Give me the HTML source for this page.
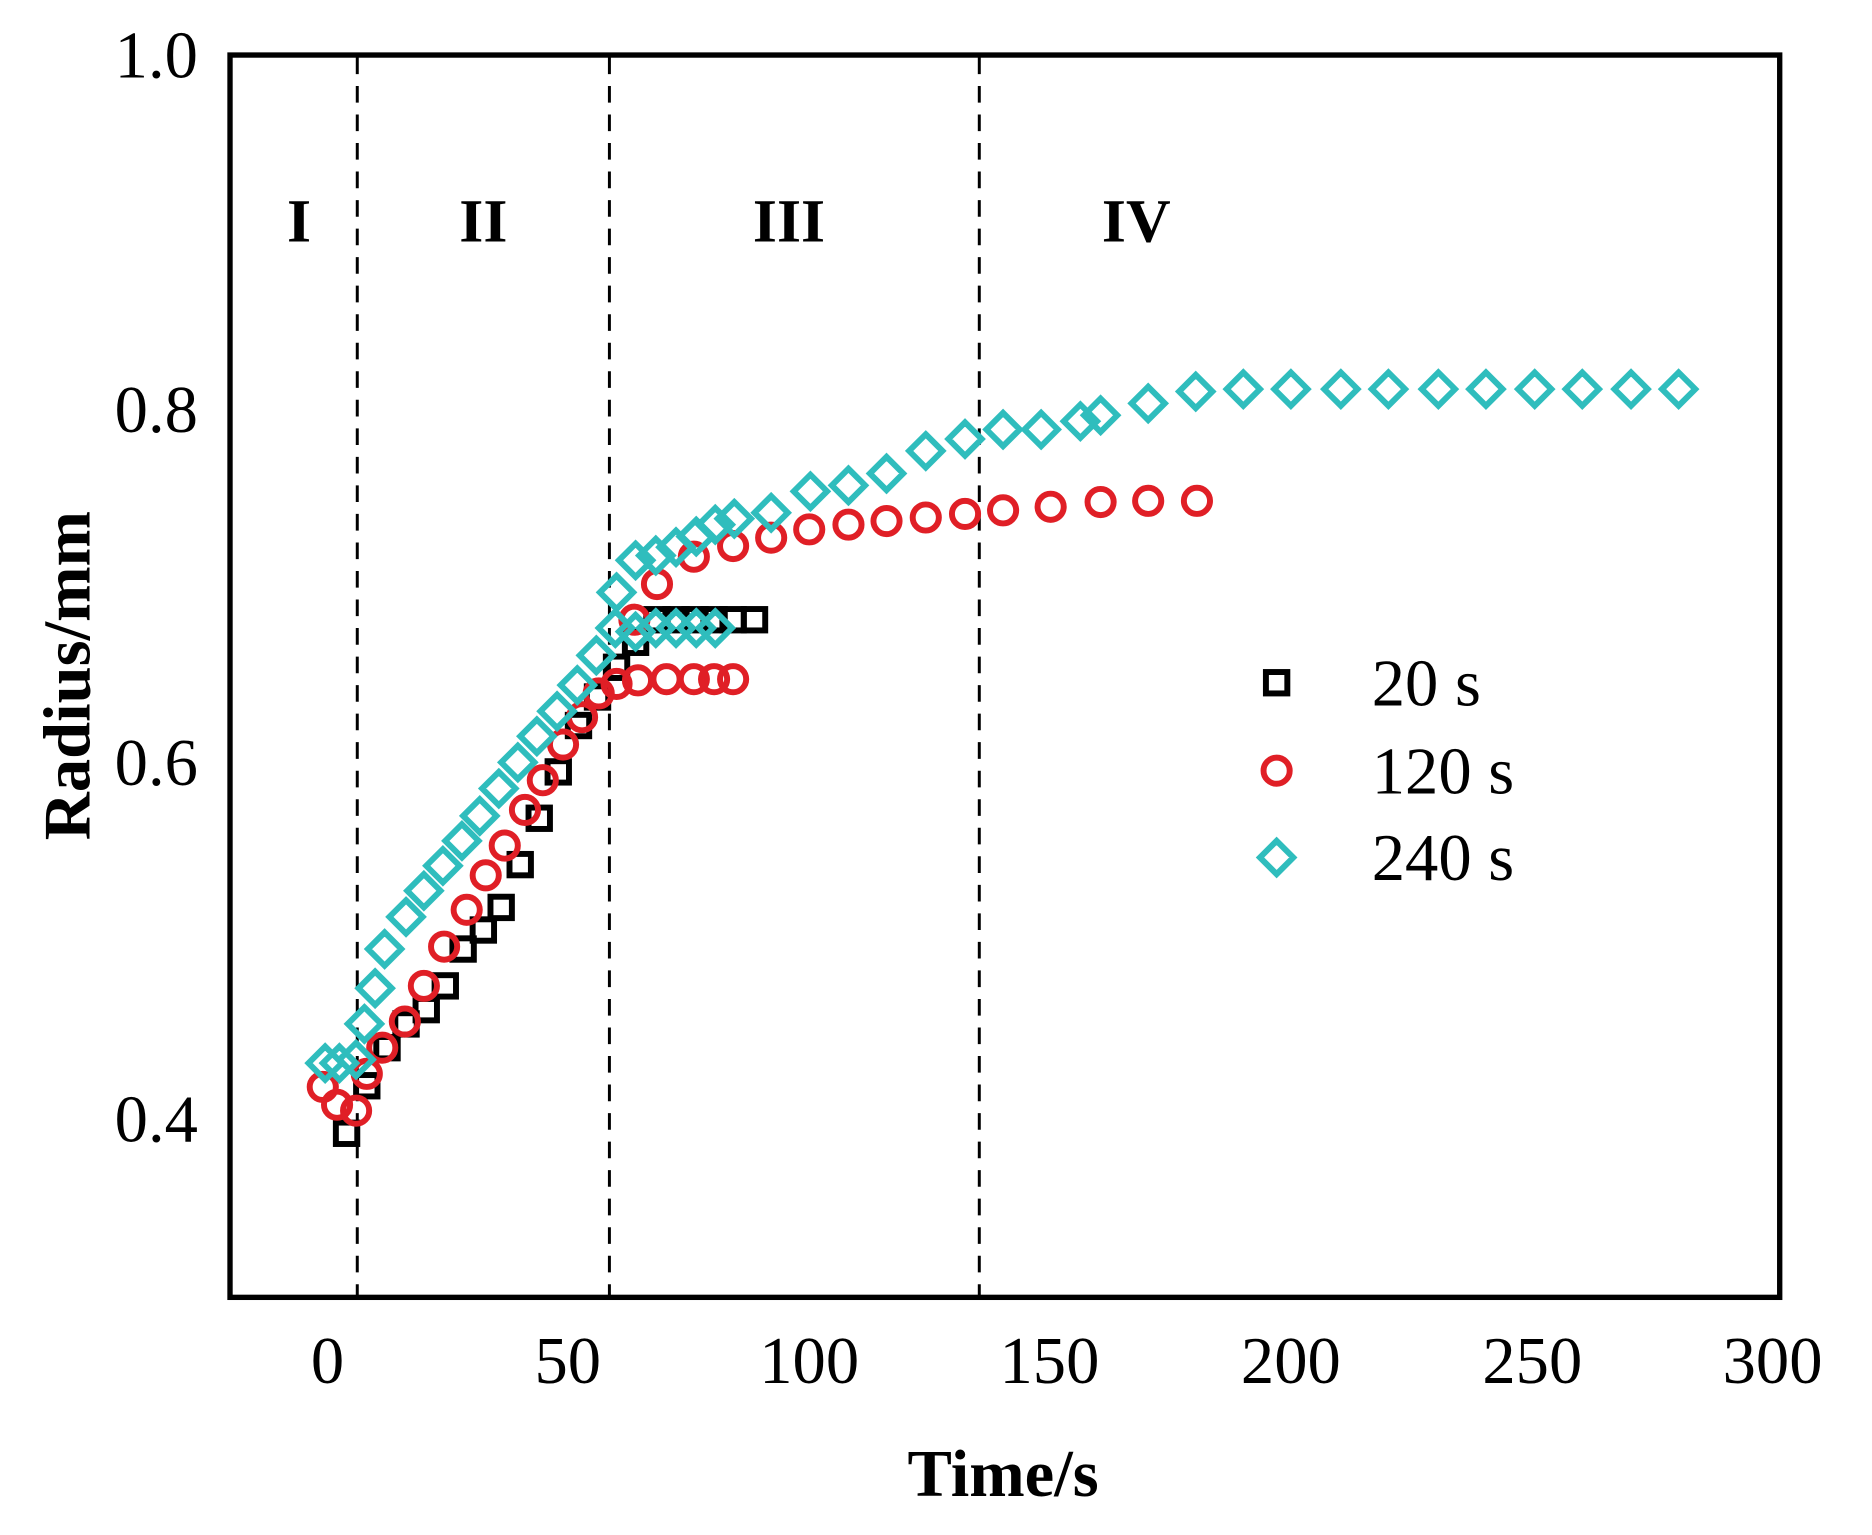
<!DOCTYPE html>
<html><head><style>html,body{margin:0;padding:0;background:#fff}</style></head><body>
<svg width="1872" height="1530" viewBox="-3.4 -1.3 1574 1287" preserveAspectRatio="none" xmlns="http://www.w3.org/2000/svg">
<rect x="-10" y="-10" width="1600" height="1300" fill="#fff"/>
<g stroke="#000" stroke-width="2.5" stroke-dasharray="14,10">
<line x1="297" y1="47" x2="297" y2="1088"/>
<line x1="509" y1="47" x2="509" y2="1088"/>
<line x1="820" y1="47" x2="820" y2="1088"/>
</g>
<g font-family="Liberation Serif, serif" font-size="52" font-weight="bold" text-anchor="middle">
<text x="248" y="202">I</text><text x="403" y="202">II</text><text x="660" y="202">III</text><text x="952" y="202">IV</text>
</g>
<g font-family="Liberation Serif, serif" font-size="56" text-anchor="end">
<text x="163" y="64">1.0</text><text x="163" y="362">0.8</text><text x="163" y="659">0.6</text><text x="163" y="959">0.4</text>
</g>
<g font-family="Liberation Serif, serif" font-size="56" text-anchor="middle">
<text x="272" y="1162">0</text><text x="474" y="1162">50</text><text x="677" y="1162">100</text><text x="879" y="1162">150</text><text x="1082" y="1162">200</text><text x="1285" y="1162">250</text><text x="1487" y="1162">300</text>
</g>
<text x="840" y="1257" font-family="Liberation Serif, serif" font-size="56" font-weight="bold" text-anchor="middle">Time/s</text>
<text transform="translate(72,567) rotate(-90)" font-family="Liberation Serif, serif" font-size="56" font-weight="bold" text-anchor="middle">Radius/mm</text>
<g fill="none" stroke="#000" stroke-width="5">
<rect x="279" y="943" width="18" height="18"/><rect x="296" y="903" width="18" height="18"/><rect x="313" y="871" width="18" height="18"/><rect x="329" y="851" width="18" height="18"/><rect x="346" y="839" width="18" height="18"/><rect x="362" y="819" width="18" height="18"/><rect x="377" y="788" width="18" height="18"/><rect x="394" y="772" width="18" height="18"/><rect x="409" y="753" width="18" height="18"/><rect x="425" y="717" width="18" height="18"/><rect x="441" y="678" width="18" height="18"/><rect x="457" y="639" width="18" height="18"/><rect x="474" y="600" width="18" height="18"/><rect x="490" y="576" width="18" height="18"/><rect x="506" y="551" width="18" height="18"/><rect x="522" y="530" width="18" height="18"/><rect x="540" y="511" width="18" height="18"/><rect x="556" y="511" width="18" height="18"/><rect x="572" y="511" width="18" height="18"/><rect x="588" y="511" width="18" height="18"/><rect x="604" y="511" width="18" height="18"/><rect x="622" y="511" width="18" height="18"/>
<rect x="1061" y="564" width="18" height="18"/>
</g>
<g fill="none" stroke="#e01f26" stroke-width="5">
<circle cx="268" cy="913" r="11"/><circle cx="280" cy="928" r="11"/><circle cx="296" cy="933" r="11"/><circle cx="305" cy="902" r="11"/><circle cx="318" cy="880" r="11"/><circle cx="337" cy="858" r="11"/><circle cx="353" cy="828" r="11"/><circle cx="370" cy="795" r="11"/><circle cx="389" cy="764" r="11"/><circle cx="405" cy="735" r="11"/><circle cx="421" cy="710" r="11"/><circle cx="438" cy="680" r="11"/><circle cx="453" cy="655" r="11"/><circle cx="470" cy="625" r="11"/><circle cx="486" cy="602" r="11"/><circle cx="500" cy="582" r="11"/><circle cx="515" cy="574" r="11"/><circle cx="533" cy="571" r="11"/><circle cx="557" cy="570" r="11"/><circle cx="580" cy="570" r="11"/><circle cx="597" cy="570" r="11"/><circle cx="613" cy="570" r="11"/>
<circle cx="530" cy="520" r="11"/><circle cx="549" cy="490" r="11"/><circle cx="580" cy="467" r="11"/><circle cx="613" cy="458" r="11"/><circle cx="645" cy="451" r="11"/><circle cx="677" cy="444" r="11"/><circle cx="710" cy="440" r="11"/><circle cx="742" cy="437" r="11"/><circle cx="775" cy="434" r="11"/><circle cx="808" cy="431" r="11"/><circle cx="840" cy="428" r="11"/><circle cx="880" cy="425" r="11"/><circle cx="922" cy="421" r="11"/><circle cx="962" cy="420" r="11"/><circle cx="1003" cy="420" r="11"/>
<circle cx="1070" cy="647" r="11"/>
</g>
<g fill="none" stroke="#2fbdbd" stroke-width="5">
<path d="M270,879l14,14l-14,14l-14,-14zM282,879l14,14l-14,14l-14,-14zM296,876l14,14l-14,14l-14,-14zM303,846l14,14l-14,14l-14,-14zM312,816l14,14l-14,14l-14,-14zM320,783l14,14l-14,14l-14,-14zM338,756l14,14l-14,14l-14,-14zM353,734l14,14l-14,14l-14,-14zM369,713l14,14l-14,14l-14,-14zM385,692l14,14l-14,14l-14,-14zM400,671l14,14l-14,14l-14,-14zM416,648l14,14l-14,14l-14,-14zM432,626l14,14l-14,14l-14,-14zM448,604l14,14l-14,14l-14,-14zM465,583l14,14l-14,14l-14,-14zM482,561l14,14l-14,14l-14,-14zM498,536l14,14l-14,14l-14,-14zM514,513l14,14l-14,14l-14,-14z
M515,483l14,14l-14,14l-14,-14zM531,456l14,14l-14,14l-14,-14zM548,452l14,14l-14,14l-14,-14zM565,445l14,14l-14,14l-14,-14zM582,436l14,14l-14,14l-14,-14zM598,426l14,14l-14,14l-14,-14zM614,421l14,14l-14,14l-14,-14zM645,416l14,14l-14,14l-14,-14zM678,398l14,14l-14,14l-14,-14zM710,393l14,14l-14,14l-14,-14zM742,383l14,14l-14,14l-14,-14zM775,364l14,14l-14,14l-14,-14zM808,354l14,14l-14,14l-14,-14zM840,346l14,14l-14,14l-14,-14zM872,346l14,14l-14,14l-14,-14zM905,339l14,14l-14,14l-14,-14zM922,334l14,14l-14,14l-14,-14zM962,324l14,14l-14,14l-14,-14zM1002,314l14,14l-14,14l-14,-14zM1042,312l14,14l-14,14l-14,-14zM1082,312l14,14l-14,14l-14,-14zM1124,312l14,14l-14,14l-14,-14zM1164,312l14,14l-14,14l-14,-14zM1206,312l14,14l-14,14l-14,-14zM1246,312l14,14l-14,14l-14,-14zM1287,312l14,14l-14,14l-14,-14zM1327,312l14,14l-14,14l-14,-14zM1368,312l14,14l-14,14l-14,-14zM1408,312l14,14l-14,14l-14,-14z
M531,516l14,14l-14,14l-14,-14zM548,513l14,14l-14,14l-14,-14zM565,513l14,14l-14,14l-14,-14zM582,513l14,14l-14,14l-14,-14zM598,513l14,14l-14,14l-14,-14z
M1070,706l14,14l-14,14l-14,-14z"/>
</g>
<g font-family="Liberation Serif, serif" font-size="56">
<text x="1150" y="592">20 s</text><text x="1150" y="666">120 s</text><text x="1150" y="739">240 s</text>
</g>
<rect x="190" y="45" width="1303" height="1045" fill="none" stroke="#000" stroke-width="4.5"/>
</svg>
</body></html>
